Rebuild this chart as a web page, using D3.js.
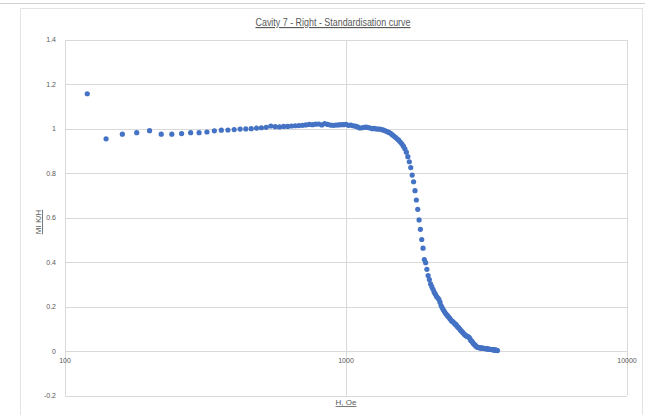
<!DOCTYPE html>
<html>
<head>
<meta charset="utf-8">
<script src="https://cdn.jsdelivr.net/npm/d3@7"></script>
<style>
  html, body { margin: 0; padding: 0; background: #fff; }
  svg { display: block; font-family: "Liberation Sans", Arial, sans-serif; }
</style>
</head>
<body>
<svg id="chart" width="645" height="415"></svg>
<script>
// Champ appliqué H (Oe), pas de 20 Oe
const hField = [
  120, 140, 160, 180, 200, 220, 240, 260, 280, 300,
  320, 340, 360, 380, 400, 420, 440, 460, 480, 500,
  520, 540, 560, 580, 600, 620, 640, 660, 680, 700,
  720, 740, 760, 780, 800, 820, 840, 860, 880, 900,
  920, 940, 960, 980, 1000, 1020, 1040, 1060, 1080, 1100,
  1120, 1140, 1160, 1180, 1200, 1220, 1240, 1260, 1280, 1300,
  1320, 1340, 1360, 1380, 1400, 1420, 1440, 1460, 1480, 1500,
  1520, 1540, 1560, 1580, 1600, 1620, 1640, 1660, 1680, 1700,
  1720, 1740, 1760, 1780, 1800, 1820, 1840, 1860, 1880, 1900,
  1920, 1940, 1960, 1980, 2000, 2020, 2040, 2060, 2080, 2100,
  2120, 2140, 2160, 2180, 2200, 2220, 2240, 2260, 2280, 2300,
  2320, 2340, 2360, 2380, 2400, 2420, 2440, 2460, 2480, 2500,
  2520, 2540, 2560, 2580, 2600, 2620, 2640, 2660, 2680, 2700,
  2720, 2740, 2760, 2780, 2800, 2820, 2840, 2860, 2880, 2900,
  2920, 2940, 2960, 2980, 3000, 3020, 3040, 3060, 3080, 3100,
  3120, 3140, 3160, 3180, 3200, 3220, 3240, 3260, 3280, 3300,
  3320, 3340, 3360, 3380, 3400, 3420, 3440, 3460
];

// MI K/H
const ratio = [
  1.158, 0.955, 0.976, 0.983, 0.992, 0.976, 0.976, 0.979, 0.983, 0.983,
  0.986, 0.991, 0.994, 0.995, 0.997, 0.999, 1.000, 1.001, 1.003, 1.005,
  1.007, 1.013, 1.010, 1.009, 1.011, 1.011, 1.013, 1.014, 1.015, 1.016,
  1.018, 1.020, 1.019, 1.021, 1.022, 1.018, 1.024, 1.020, 1.017, 1.016,
  1.017, 1.018, 1.019, 1.019, 1.020, 1.016, 1.017, 1.014, 1.012, 1.009,
  1.004, 1.005, 1.007, 1.008, 1.006, 1.004, 1.001, 1.002, 1.000, 0.999,
  0.999, 0.997, 0.994, 0.991, 0.988, 0.984, 0.980, 0.974, 0.968, 0.962,
  0.955, 0.949, 0.941, 0.933, 0.922, 0.910, 0.895, 0.875, 0.852, 0.826,
  0.792, 0.762, 0.722, 0.680, 0.638, 0.590, 0.548, 0.502, 0.463, 0.412,
  0.398, 0.368, 0.340, 0.322, 0.302, 0.290, 0.278, 0.265, 0.256, 0.246,
  0.240, 0.233, 0.220, 0.205, 0.195, 0.186, 0.178, 0.170, 0.164, 0.158,
  0.153, 0.147, 0.141, 0.134, 0.133, 0.127, 0.122, 0.120, 0.113, 0.108,
  0.104, 0.099, 0.093, 0.089, 0.084, 0.080, 0.075, 0.071, 0.068, 0.066,
  0.064, 0.062, 0.056, 0.047, 0.045, 0.040, 0.034, 0.030, 0.027, 0.022,
  0.019, 0.017, 0.016, 0.015, 0.014, 0.014, 0.013, 0.013, 0.012, 0.012,
  0.011, 0.011, 0.010, 0.010, 0.009, 0.009, 0.008, 0.008, 0.007, 0.007,
  0.006, 0.006, 0.005, 0.005, 0.004, 0.004, 0.003, 0.002
];

const xTicks = [100, 1000, 10000];
const yTicks = [-0.2, 0, 0.2, 0.4, 0.6, 0.8, 1, 1.2, 1.4];

const points = hField.map((h, i) => ({ h: h, m: ratio[i] }));

const svg = d3.select('#chart');
const gridColor = '#d9d9d9';
const textColor = '#595959';

// Cadre de la zone graphique
svg.append('line')
  .attr('x1', 0).attr('x2', 645).attr('y1', 3.5).attr('y2', 3.5)
  .attr('stroke', '#d0d0d0');
svg.append('rect')
  .attr('x', 20.5).attr('y', 8.5).attr('width', 622).attr('height', 420)
  .attr('fill', '#fff').attr('stroke', '#e3e3e3');

const x = d3.scaleLog().domain([100, 10000]).range([65, 627]);
const y = d3.scaleLinear().domain([-0.2, 1.4]).range([395.5, 40]);

// Quadrillage horizontal
svg.append('g')
  .selectAll('line')
  .data(yTicks)
  .enter()
  .append('line')
  .attr('x1', x(100)).attr('x2', x(10000))
  .attr('y1', d => Math.round(y(d)) + 0.5)
  .attr('y2', d => Math.round(y(d)) + 0.5)
  .attr('stroke', gridColor);

// Quadrillage vertical
svg.append('g')
  .selectAll('line')
  .data(xTicks)
  .enter()
  .append('line')
  .attr('x1', d => Math.round(x(d)) + 0.5)
  .attr('x2', d => Math.round(x(d)) + 0.5)
  .attr('y1', y(1.4)).attr('y2', y(-0.2))
  .attr('stroke', gridColor);

// Libellés de l'axe Y
svg.append('g')
  .selectAll('text')
  .data(yTicks)
  .enter()
  .append('text')
  .attr('x', 56)
  .attr('y', d => y(d))
  .attr('dy', '0.35em')
  .attr('text-anchor', 'end')
  .style('font-size', '7px')
  .attr('fill', textColor)
  .text(d => d3.format('')(d).replace('−', '-'));

// Libellés de l'axe X (sous la ligne y = 0)
svg.append('g')
  .selectAll('text')
  .data(xTicks)
  .enter()
  .append('text')
  .attr('x', d => x(d))
  .attr('y', y(0) + 9)
  .attr('dy', '0.35em')
  .attr('text-anchor', 'middle')
  .style('font-size', '7px')
  .attr('fill', textColor)
  .text(d => d);

// Points
svg.append('g')
  .selectAll('circle')
  .data(points)
  .enter()
  .append('circle')
  .attr('cx', d => x(d.h))
  .attr('cy', d => y(d.m))
  .attr('r', 2.6)
  .attr('fill', '#4472C4');

// Titre
svg.append('text')
  .attr('x', 333)
  .attr('y', 26)
  .attr('text-anchor', 'middle')
  .attr('textLength', 155)
  .attr('lengthAdjust', 'spacingAndGlyphs')
  .style('font-size', '11.5px')
  .style('text-decoration', 'underline')
  .attr('fill', textColor)
  .text('Cavity 7 - Right - Standardisation curve');

// Titres des axes
svg.append('text')
  .attr('x', 346)
  .attr('y', 405)
  .attr('text-anchor', 'middle')
  .style('font-size', '8px')
  .style('text-decoration', 'underline')
  .attr('fill', textColor)
  .text('H, Oe');

svg.append('text')
  .attr('transform', 'translate(41,222) rotate(-90)')
  .attr('text-anchor', 'middle')
  .style('font-size', '8px')
  .style('text-decoration', 'underline')
  .attr('fill', textColor)
  .text('MI K/H');
</script>
</body>
</html>
